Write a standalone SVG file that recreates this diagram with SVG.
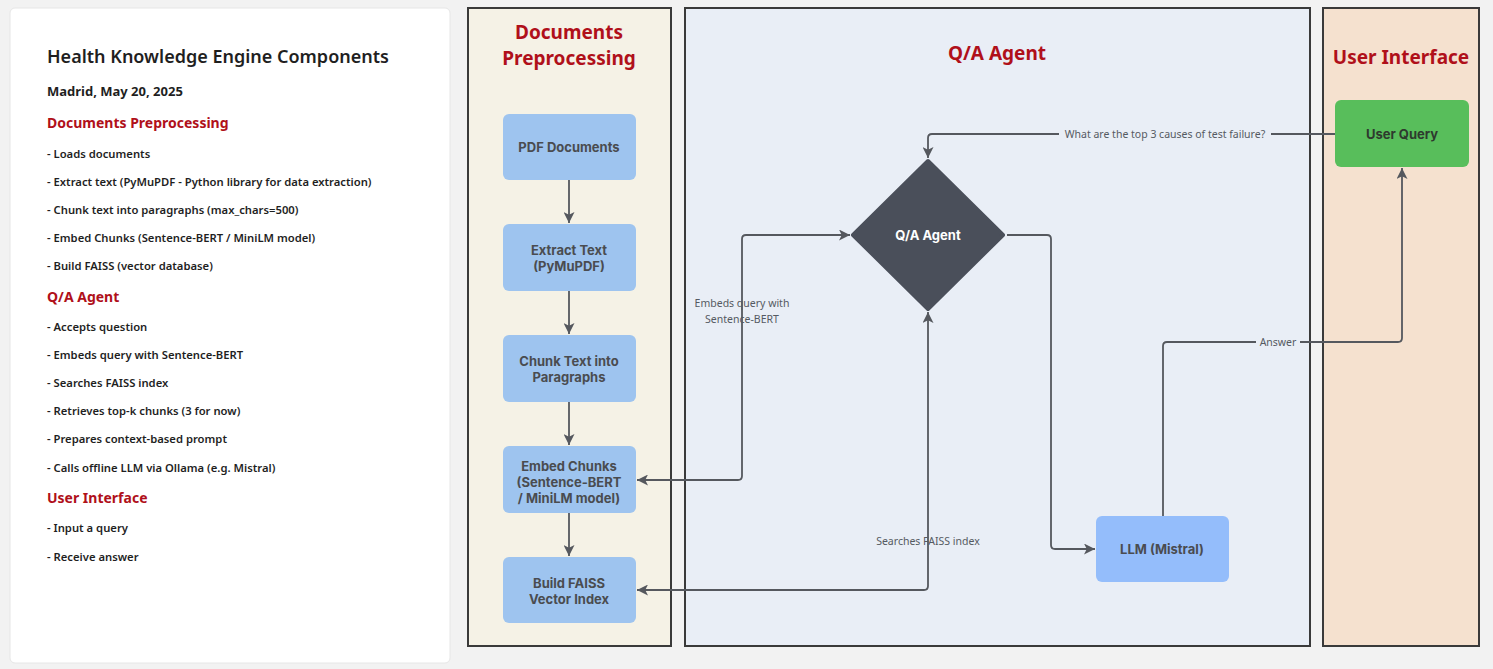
<svg xmlns="http://www.w3.org/2000/svg" width="1493" height="669" viewBox="0 0 1493 669">
<style>
.bg{fill:#f2f2f2}
.panel{fill:#ffffff;stroke:#e6e6e6;stroke-width:1}
.t-title{font-family:"Noto Sans","Open Sans",sans-serif;font-weight:600;font-size:18px;fill:#1f1f1f}
.t-date{font-family:"Noto Sans","Open Sans",sans-serif;font-weight:700;font-size:13px;fill:#1f1f1f}
.t-head{font-family:"Noto Sans","Open Sans",sans-serif;font-weight:700;font-size:14px;fill:#b0101a}
.t-item{font-family:"Noto Sans","Open Sans",sans-serif;font-weight:600;font-size:11.25px;fill:#1f1f1f}
.lane{stroke:#3a3a3a;stroke-width:2}
.lane-title{font-family:"Noto Sans","Open Sans",sans-serif;font-weight:700;font-size:19px;fill:#b0101a;text-anchor:middle}
.node{fill:#9ec4ef}
.ntext{font-family:Inter,"Lato",sans-serif;font-weight:700;font-size:13px;fill:#4a4c50;text-anchor:middle}
.conn{fill:none;stroke:#55585e;stroke-width:1.8}
.clabel{font-family:"Noto Sans","Open Sans",sans-serif;font-size:10.5px;fill:#555a62;text-anchor:middle}
</style>
<defs>
<marker id="arr" viewBox="0 0 10 10" refX="10" refY="5" markerWidth="12" markerHeight="11" markerUnits="userSpaceOnUse" orient="auto-start-reverse">
<path d="M0,0 L10,5 L0,10 L2.5,5 z" fill="#55585e"/>
</marker>
</defs>
<rect class="bg" x="0" y="0" width="1493" height="669"/>

<g id="notes">
<rect class="panel" x="10" y="8" width="440" height="655" rx="5"/>
<text class="t-title" x="47" y="63">Health Knowledge Engine Components</text>
<text class="t-date" x="47" y="96">Madrid, May 20, 2025</text>
<text class="t-head" x="47" y="128">Documents Preprocessing</text>
<text class="t-item" x="47" y="158">- Loads documents</text>
<text class="t-item" x="47" y="186">- Extract text (PyMuPDF - Python library for data extraction)</text>
<text class="t-item" x="47" y="214">- Chunk text into paragraphs (max_chars=500)</text>
<text class="t-item" x="47" y="242">- Embed Chunks (Sentence-BERT / MiniLM model)</text>
<text class="t-item" x="47" y="270">- Build FAISS (vector database)</text>
<text class="t-head" x="47" y="302">Q/A Agent</text>
<text class="t-item" x="47" y="331">- Accepts question</text>
<text class="t-item" x="47" y="359">- Embeds query with Sentence-BERT</text>
<text class="t-item" x="47" y="387">- Searches FAISS index</text>
<text class="t-item" x="47" y="415">- Retrieves top-k chunks (3 for now)</text>
<text class="t-item" x="47" y="443">- Prepares context-based prompt</text>
<text class="t-item" x="47" y="472">- Calls offline LLM via Ollama (e.g. Mistral)</text>
<text class="t-head" x="47" y="503">User Interface</text>
<text class="t-item" x="47" y="532">- Input a query</text>
<text class="t-item" x="47" y="561">- Receive answer</text>
</g>

<g id="lane-docs">
<rect class="lane" x="468" y="8" width="203" height="638" fill="#f5f2e6"/>
<text class="lane-title" x="569" y="39">Documents</text>
<text class="lane-title" x="569" y="65">Preprocessing</text>
</g>
<g id="lane-qa">
<rect class="lane" x="685" y="8" width="625" height="638" fill="#e9eef6"/>
<text class="lane-title" x="997" y="60">Q/A Agent</text>
</g>
<g id="lane-ui">
<rect class="lane" x="1323" y="8" width="156" height="638" fill="#f5e1cf"/>
<text class="lane-title" x="1401" y="64">User Interface</text>
</g>

<g id="connectors">
<path class="conn" d="M569,180 V223" marker-end="url(#arr)"/>
<path class="conn" d="M569,291 V334" marker-end="url(#arr)"/>
<path class="conn" d="M569,402 V445" marker-end="url(#arr)"/>
<path class="conn" d="M569,513 V556" marker-end="url(#arr)"/>
<path class="conn" d="M1335,134 H932 Q928,134 928,138 V158" marker-end="url(#arr)"/>
<rect x="1059" y="127" width="212" height="14" fill="#e9eef6"/>
<text class="clabel" x="1165" y="138">What are the top 3 causes of test failure?</text>
<path class="conn" d="M1007,235 H1047 Q1051,235 1051,239 V545 Q1051,549 1055,549 H1095" marker-end="url(#arr)"/>
<path class="conn" d="M1163,516 V346 Q1163,342 1167,342 H1398 Q1402,342 1402,338 V168" marker-end="url(#arr)"/>
<rect x="1256" y="335" width="44" height="14" fill="#e9eef6"/>
<text class="clabel" x="1278" y="346">Answer</text>
<path class="conn" d="M637,480 H738 Q742,480 742,476 V239 Q742,235 746,235 H850" marker-start="url(#arr)" marker-end="url(#arr)"/>
<text class="clabel" x="742" y="307">Embeds query with</text>
<text class="clabel" x="742" y="323">Sentence-BERT</text>
<path class="conn" d="M637,590 H924 Q928,590 928,586 V312" marker-start="url(#arr)" marker-end="url(#arr)"/>
<text class="clabel" x="928" y="545">Searches FAISS index</text>
</g>

<g id="pdf-documents">
<rect class="node" x="503" y="114" width="133" height="66" rx="6"/>
<text class="ntext" x="569" y="152">PDF Documents</text>
</g>
<g id="extract-text">
<rect class="node" x="503" y="224" width="133" height="67" rx="6"/>
<text class="ntext" x="569" y="255">Extract Text</text>
<text class="ntext" x="569" y="271">(PyMuPDF)</text>
</g>
<g id="chunk-text">
<rect class="node" x="503" y="335" width="133" height="67" rx="6"/>
<text class="ntext" x="569" y="366">Chunk Text into</text>
<text class="ntext" x="569" y="382">Paragraphs</text>
</g>
<g id="embed-chunks">
<rect class="node" x="503" y="446" width="133" height="67" rx="6"/>
<text class="ntext" x="569" y="471">Embed Chunks</text>
<text class="ntext" x="569" y="487">(Sentence-BERT</text>
<text class="ntext" x="569" y="503">/ MiniLM model)</text>
</g>
<g id="build-faiss">
<rect class="node" x="503" y="557" width="133" height="66" rx="6"/>
<text class="ntext" x="569" y="588">Build FAISS</text>
<text class="ntext" x="569" y="604">Vector Index</text>
</g>
<g id="qa-agent">
<polygon points="928,161 1003,235 928,309 853,235" fill="#4a4f5a" stroke="#4a4f5a" stroke-width="4" stroke-linejoin="round"/>
<text class="ntext" x="928" y="240" style="fill:#ffffff">Q/A Agent</text>
</g>
<g id="llm">
<rect x="1096" y="516" width="133" height="66" rx="6" fill="#94bdfb"/>
<text class="ntext" x="1162" y="554">LLM (Mistral)</text>
</g>
<g id="user-query">
<rect x="1335" y="100" width="134" height="67" rx="6" fill="#58be5b"/>
<text class="ntext" x="1402" y="139" style="fill:#2e3a2e">User Query</text>
</g>
</svg>
